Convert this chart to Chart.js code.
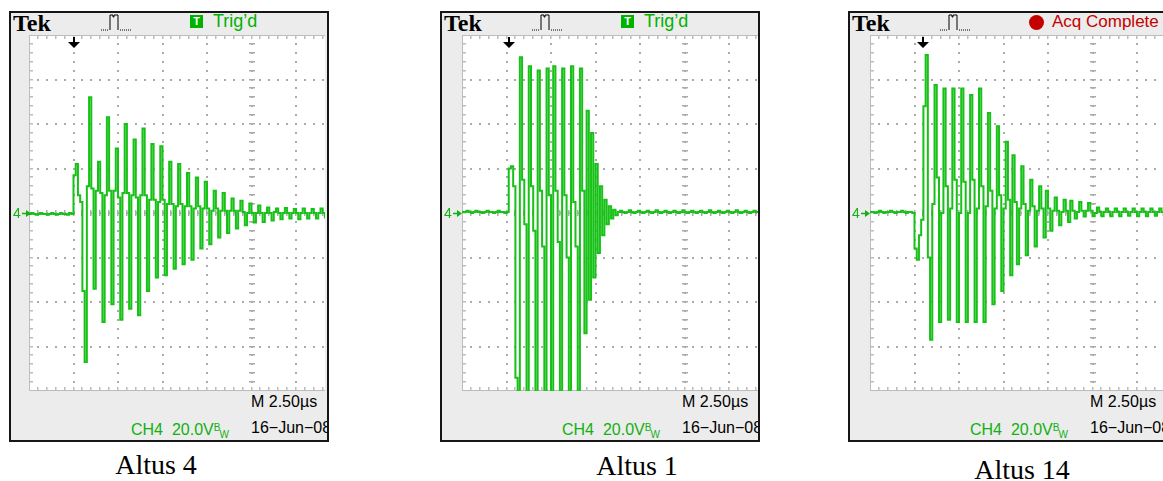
<!DOCTYPE html>
<html>
<head>
<meta charset="utf-8">
<script src="https://cdn.jsdelivr.net/npm/chart.js"></script>
<style>
  body { margin: 0; width: 1163px; height: 481px; position: relative; overflow: hidden; background: #fff; font-family: "Liberation Sans", Arial, sans-serif; }
  .scope { position: absolute; top: 11px; width: 320px; height: 431px; box-sizing: border-box; border: 2px solid #161616; background: #ececec; overflow: hidden; }
  .scope canvas { position: absolute; top: 22px; background: #fff; }
  .tek { position: absolute; left: 2px; top: -2px; font: bold 24px/24px "Liberation Serif", serif; color: #000; }
  .pulse { position: absolute; left: 89px; top: 0; }
  .tbox { position: absolute; left: 179px; top: 2px; width: 13px; height: 13px; background: #00b300; color: #fff; font: bold 11px/13px "Liberation Sans", sans-serif; text-align: center; }
  .dot { position: absolute; left: 179px; top: 2px; width: 15px; height: 15px; border-radius: 50%; background: #c40000; }
  .status { position: absolute; left: 202px; top: -1px; font: 18px/18px "Liberation Sans", sans-serif; color: #00b300; white-space: nowrap; }
  .status.red { color: #c40000; font-size: 17px; top: 0; }
  .trig { position: absolute; top: 24px; }
  .gnd { position: absolute; left: 2px; top: 193px; font: 14px/14px "Liberation Sans", sans-serif; color: #12b012; white-space: nowrap; }
  .gnd svg { vertical-align: 0; margin-left: 1px; }
  .mtime { position: absolute; left: 240px; top: 381px; font: 16px/16px "Liberation Sans", sans-serif; color: #000; white-space: nowrap; }
  .ch { position: absolute; left: 120px; top: 407px; font: 16px/16px "Liberation Sans", sans-serif; color: #12b012; white-space: pre; }
  .ch .b { font-size: 10px; vertical-align: 4px; }
  .ch .w { font-size: 10px; vertical-align: -3px; margin-left: -1px; }
  .date { position: absolute; left: 240px; top: 407px; font: 16px/16px "Liberation Sans", sans-serif; color: #000; white-space: nowrap; }
  .caption { position: absolute; width: 200px; text-align: center; font: 28px/28px "Liberation Serif", "Times New Roman", serif; color: #000; }
</style>
</head>
<body>

<div class="scope" style="left:9px">
  <div class="tek">Tek</div>
  <svg class="pulse" width="34" height="19"><path d="M1 17h1M3 17h1M5 17h1M7 17h1M10 17V2h3v2h1V2h4v15M20 17h1M22 17h1M24 17h1M26 17h1M28 17h1M30 17h1" stroke="#000" fill="none"/></svg>
  <div class="tbox">T</div>
  <div class="status">Trig’d</div>
  <canvas id="altus4" width="296" height="356" style="left:18px"></canvas>
  <svg class="trig" width="12" height="12" style="left:57px"><path d="M5 0h2v5h5l-6 6-6-6h5z" fill="#000"/></svg>
  <div class="gnd">4<svg width="9" height="9"><path d="M0 4.5h6" stroke="#12b012" stroke-width="1.5"/><path d="M4 1l5 3.5-5 3.5z" fill="#12b012"/></svg></div>
  <div class="mtime">M 2.50µs</div>
  <div class="ch">CH4  20.0V<span class="b">B</span><span class="w">W</span></div>
  <div class="date">16−Jun−08</div>
</div>

<div class="scope" style="left:440px">
  <div class="tek">Tek</div>
  <svg class="pulse" width="34" height="19"><path d="M1 17h1M3 17h1M5 17h1M7 17h1M10 17V2h3v2h1V2h4v15M20 17h1M22 17h1M24 17h1M26 17h1M28 17h1M30 17h1" stroke="#000" fill="none"/></svg>
  <div class="tbox">T</div>
  <div class="status">Trig’d</div>
  <canvas id="altus1" width="296" height="356" style="left:20px"></canvas>
  <svg class="trig" width="12" height="12" style="left:61px"><path d="M5 0h2v5h5l-6 6-6-6h5z" fill="#000"/></svg>
  <div class="gnd">4<svg width="9" height="9"><path d="M0 4.5h6" stroke="#12b012" stroke-width="1.5"/><path d="M4 1l5 3.5-5 3.5z" fill="#12b012"/></svg></div>
  <div class="mtime">M 2.50µs</div>
  <div class="ch">CH4  20.0V<span class="b">B</span><span class="w">W</span></div>
  <div class="date">16−Jun−08</div>
</div>

<div class="scope" style="left:848px">
  <div class="tek">Tek</div>
  <svg class="pulse" width="34" height="19"><path d="M1 17h1M3 17h1M5 17h1M7 17h1M10 17V2h3v2h1V2h4v15M20 17h1M22 17h1M24 17h1M26 17h1M28 17h1M30 17h1" stroke="#000" fill="none"/></svg>
  <div class="dot"></div>
  <div class="status red">Acq Complete</div>
  <canvas id="altus14" width="293" height="356" style="left:20px"></canvas>
  <svg class="trig" width="12" height="12" style="left:67px"><path d="M5 0h2v5h5l-6 6-6-6h5z" fill="#000"/></svg>
  <div class="gnd">4<svg width="9" height="9"><path d="M0 4.5h6" stroke="#12b012" stroke-width="1.5"/><path d="M4 1l5 3.5-5 3.5z" fill="#12b012"/></svg></div>
  <div class="mtime">M 2.50µs</div>
  <div class="ch">CH4  20.0V<span class="b">B</span><span class="w">W</span></div>
  <div class="date">16−Jun−08</div>
</div>

<div class="caption" style="left:56px;top:451px">Altus 4</div>
<div class="caption" style="left:537px;top:452px">Altus 1</div>
<div class="caption" style="left:922px;top:456px">Altus 14</div>

<script>
// ======= Scope settings =======
const sampleStep = 0.125;   // µs between samples
const timePerDiv = 2.5;     // M 2.50µs
const voltsPerDiv = 20;     // CH4 20.0V
const divPx = 44.5;         // screen division size

// ======= Traces (volts, one sample every sampleStep) =======
const altus4Volts = [
  -0.4, 0, -0.4, -0.8, -0.4, 0, -0.4, -0.4, -0.8, -0.4,
  0, -0.4, -0.8, -0.4, 0, -0.4, -0.4, -0.8, 0, -0.4,
  17, 22, 8, 5, -35, -67, 12, 52, 11, -34,
  10, 23, 9, -49, 8, 43, 10, -41, 10, 29,
  7, -48, 9, 40, 9, -43, 8, 33, 7, -46,
  8, 38, 8, -35, 6, 31, 6, -29, 5, 30,
  6, -28, 4, 23, 4, -25, 3, 22, 4, -23,
  3, 18, 3, -21, 2, 16, 3, -16, 2, 14,
  2, -14, 1, 10, 2, -11, 1, 9, 1, -9,
  1, 6.5, 1, -7, 1, 5.5, 0.5, -5.5, 0, 4.3,
  0, -4.3, 0, 3.4, 0, -4, 0, 2.5, 0, -3.4,
  0.5, 2, 0, -2.8, 0, 2.2, 0, -2.5, 0, 1.8,
  0, -2.8, 0, 2, 0, -2.5, 0, 1.8, 0, -2.5,
  0, 2, 0, -2.5
];

const altus1Volts = [
  0.5, 0.5, 1, 0.5, 0, 0.5, 1, 0.5, 0.5, 0,
  0.5, 1, 0.5, 0.5, 0, 0.5, 1, 0.5, 0.5, 0,
  0.5, 20, 21, 12, -74, -82, 70, 15, -5, -85,
  66, 12, -8, -85, 64, 10, -15, -85, 65, 8,
  -85, 66, 10, -13, -85, 65, 8, -20, -85, 66,
  5, -15, -85, 65, 10, -54, 46, -39, 36, -29,
  22, -18, 12, -10, 6, -5, 3, -2.5, 1.5, -1,
  0.5, 1, 0.5, 0, 0.5, 1.2, 0.5, 0, 0.5, 1,
  0.5, 0, 0.5, 1, 0.5, 0, 0.5, 1.2, 0.5, 0,
  0.5, 1, 0.5, 0, 0.5, 1, 0.5, 0, 0.5, 1.2,
  0.5, 0, 0.5, 1, 0.5, 0, 0.5, 1, 0.5, 0,
  0.5, 1.2, 0.5, 0, 0.5, 1, 0.5, 0, 0.5, 1,
  0.5, 0, 0.5, 1.2, 0.5, 0, 0.5, 1, 0.5, 0,
  0.5, 1, 0.5, 0
];

const altus14Volts = [
  0.5, 0.5, 0, 0.5, 1, 0.5, 0, 0.5, 0.5, 1,
  0.5, 0, 0.5, 0.5, 1, 0.5, 0, 0.5, 0.5, 0,
  -16, -21, -10, -3, 48, 71, -20, -57, 4, 57.5,
  16, -49, 0, 56, 12, -48, 2, 56, 15, -49,
  0, 56, 14, -49, 0, 53, 15, -49, 2, 56,
  12, -49, 3, 45, 10, -41, 2, 39, 8, -35,
  2, 32, 6, -28, 26, 5, -23, 2, 21, 4,
  -19, 1, 15, 3, -15, 1, 12, 2, -11, 10,
  2, -8, 1, 7, 1, -5.5, 0.5, 6, 1, -4,
  5.5, 1, -2.5, 0.5, 5, 1, -1.6, 1, 4.5, 1,
  -1.5, 0, 2.5, 0.5, -1.5, 0.5, 2, 0.5, -1.5, 0.5,
  2, 0.5, -1.5, 0.5, 2, 0.5, -1.2, 0.5, 2, 0.5,
  -1.5, 0.5, 2, 0.5, -1.5, 0.5, 2, 0.5, -1.2, 0.5,
  2, 0.5, -1.5
];

// ======= Graticule plugin =======
const scopeGrid = {
  id: 'scopeGrid',
  beforeDatasetsDraw(chart) {
    const { ctx, chartArea: a, scales: { x, y } } = chart;
    const xMinor = [], xMajor = [], yMinor = [], yMajor = [];
    for (let t = 0; t <= x.max + 1e-6; t += timePerDiv / 5) xMinor.push(Math.round(x.getPixelForValue(t)));
    for (let t = 0; t <= x.max + 1e-6; t += timePerDiv) xMajor.push(Math.round(x.getPixelForValue(t)));
    for (let v = y.min; v <= y.max + 1e-6; v += voltsPerDiv / 5) yMinor.push(Math.round(y.getPixelForValue(v)));
    for (let v = y.min; v <= y.max + 1e-6; v += voltsPerDiv) yMajor.push(Math.round(y.getPixelForValue(v)));
    const cx = Math.round(x.getPixelForValue(5 * timePerDiv));
    const cy = Math.round(y.getPixelForValue(0));

    ctx.save();
    // dotted division lines
    ctx.fillStyle = '#ababab';
    xMajor.forEach(px => yMinor.forEach(py => ctx.fillRect(px - 1, py - 1, 2, 2)));
    yMajor.forEach(py => xMinor.forEach(px => ctx.fillRect(px - 1, py - 1, 2, 2)));
    // centre cross ticks
    yMinor.forEach(py => ctx.fillRect(cx - 3, py - 1, 6, 1.5));
    xMinor.forEach(px => ctx.fillRect(px - 1, cy - 3, 1.5, 6));
    // edge frame and ticks
    ctx.fillStyle = '#bcbcbc';
    ctx.fillRect(a.left, a.top, a.right - a.left, 1);
    ctx.fillRect(a.left, a.bottom - 1, a.right - a.left, 1);
    ctx.fillRect(a.left, a.top, 1, a.bottom - a.top);
    yMinor.forEach(py => ctx.fillRect(a.left, py - 1, 4, 1.5));
    xMinor.forEach(px => {
      ctx.fillRect(px - 1, a.top, 1.5, 4);
      ctx.fillRect(px - 1, a.bottom - 4, 1.5, 4);
    });
    ctx.restore();
  }
};

// ======= Charts =======
function drawScope(canvasId, volts) {
  const canvas = document.getElementById(canvasId);
  const maxTime = canvas.width / divPx * timePerDiv;
  const points = volts.map((v, i) => ({ x: i * sampleStep, y: v }));

  new Chart(canvas, {
    type: 'line',
    data: {
      datasets: [{
        data: points,
        stepped: true,
        borderColor: '#17c117',
        borderWidth: 2,
        pointRadius: 0,
        fill: false,
        clip: 0
      }]
    },
    options: {
      responsive: false,
      animation: false,
      events: [],
      layout: { padding: 0 },
      plugins: { legend: { display: false }, tooltip: { enabled: false } },
      scales: {
        x: { type: 'linear', min: 0, max: maxTime, display: false },
        y: { type: 'linear', min: -4 * voltsPerDiv, max: 4 * voltsPerDiv, display: false }
      }
    },
    plugins: [scopeGrid]
  });
}

drawScope('altus4', altus4Volts);
drawScope('altus1', altus1Volts);
drawScope('altus14', altus14Volts);
</script>
</body>
</html>
